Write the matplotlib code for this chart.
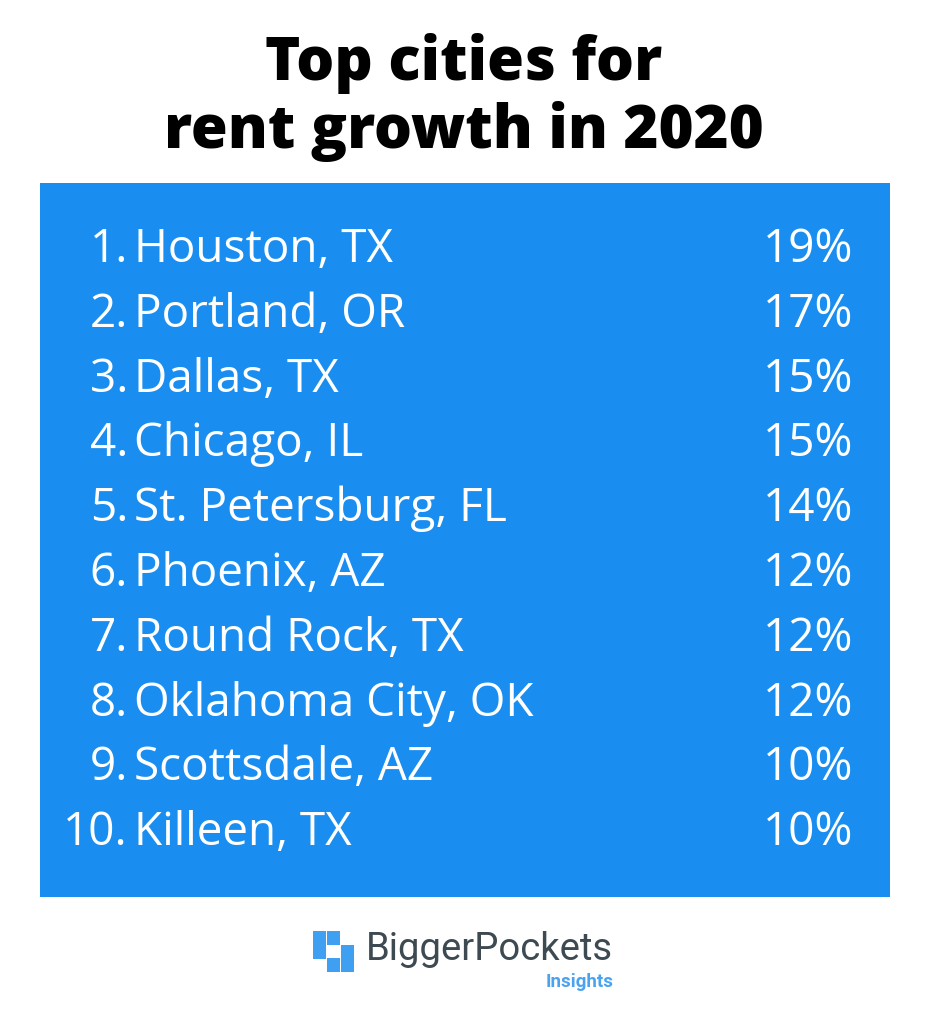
import matplotlib.pyplot as plt
from matplotlib.patches import Rectangle

ranks = ["1.", "2.", "3.", "4.", "5.", "6.", "7.", "8.", "9.", "10."]
cities = ["Houston, TX", "Portland, OR", "Dallas, TX", "Chicago, IL",
          "St. Petersburg, FL", "Phoenix, AZ", "Round Rock, TX",
          "Oklahoma City, OK", "Scottsdale, AZ", "Killeen, TX"]
growth = [19, 17, 15, 15, 14, 12, 12, 12, 10, 10]

W, H = 928, 1024
fig = plt.figure(figsize=(W / 100, H / 100), dpi=100)
ax = fig.add_axes([0, 0, 1, 1])
ax.set_xlim(0, W)
ax.set_ylim(H, 0)
ax.axis('off')

ax.text(464, 64, "Top cities for", ha='center', va='center',
        fontsize=43, fontweight='heavy', family='Open Sans', color='black')
ax.text(464, 132, "rent growth in 2020", ha='center', va='center',
        fontsize=43, fontweight='heavy', family='Open Sans', color='black')

ax.add_patch(Rectangle((40, 183), 850, 714, color='#1a8ef0', lw=0))

y0, step = 250, 64.8
for i, (r, c, g) in enumerate(zip(ranks, cities, growth)):
    y = y0 + i * step
    kw = dict(va='center', fontsize=33, family='Open Sans', color='white')
    ax.text(128, y, r, ha='right', **kw)
    ax.text(134, y, c, ha='left', **kw)
    ax.text(853, y, f"{g}%", ha='right', **kw)

# logo
logo = '#3fa0f2'
for (x, y) in [(313, 931), (327, 931), (313, 945), (341, 945), (327, 958), (341, 958)]:
    ax.add_patch(Rectangle((x, y), 13.5, 13.5, color=logo, lw=0))
ax.text(366, 950, "BiggerPockets", ha='left', va='center', fontsize=27.5,
        family='Roboto', color='#3d4a52')
ax.text(614, 982, "Insights", ha='right', va='center', fontsize=13.5,
        fontweight='bold', family='Roboto', color='#4ba3f0')

fig.savefig('out.png', dpi=100)
